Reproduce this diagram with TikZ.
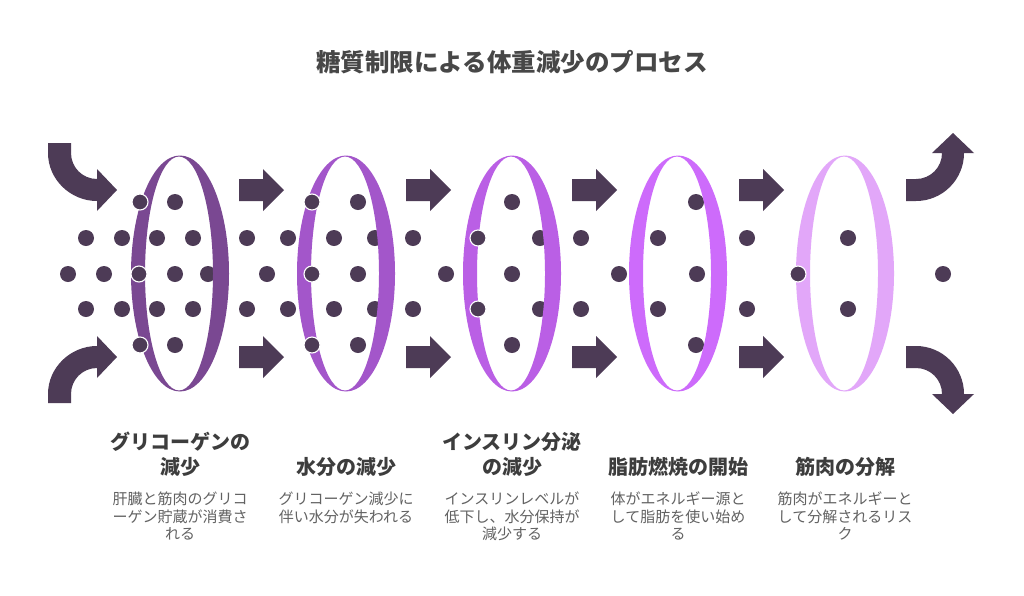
\documentclass[tikz,border=0pt]{standalone}
\usepackage{fontspec}
\setmainfont{Noto Sans CJK JP}
\definecolor{dk}{HTML}{4D3B56}
\definecolor{r1}{HTML}{7A4892}
\definecolor{r2}{HTML}{A356CA}
\definecolor{r3}{HTML}{BA5FE5}
\definecolor{r4}{HTML}{CD6BFB}
\definecolor{r5}{HTML}{E2A7F9}
\definecolor{ttl}{HTML}{474747}
\definecolor{hd}{HTML}{3D3D3D}
\definecolor{ds}{HTML}{626262}
\tikzset{
  dotf/.style={fill=dk},
  dotw/.style={fill=dk, draw=white, line width=1.1pt},
  head/.style={font=\bfseries\fontsize{20}{25}\selectfont, text=hd, align=center, inner sep=0pt},
  desc/.style={font=\fontsize{15}{17.5}\selectfont, text=ds, align=center, inner sep=0pt, anchor=north},
  blk/.style={fill=dk}
}
\begin{document}
\begin{tikzpicture}[x=1pt,y=-1pt]
\useasboundingbox[fill=white] (0,0) rectangle (1024,595);
% title
\node[font=\bfseries\fontsize{24.5}{29}\selectfont, text=ttl] (title) at (512,62) {糖質制限による体重減少のプロセス};
% plain dots (drawn before rings)
\foreach \x in {175,358,512,696} {\fill[dotf] (\x,202) circle[radius=8pt]; \fill[dotf] (\x,345) circle[radius=8pt];}
\foreach \x in {86,122,157,193,247,288,334,375,413,540,581,658,747,848} {\fill[dotf] (\x,238) circle[radius=8pt]; \fill[dotf] (\x,309) circle[radius=8pt];}
\foreach \x in {68,104,175,208,267,358,446,512,619,697,943} {\fill[dotf] (\x,274) circle[radius=8pt];}
% rings
\foreach \c/\col in {180/r1,346/r2,512/r3,678/r4,845/r5} {
  \fill[\col, even odd rule] (\c,273.5) ellipse[x radius=49pt, y radius=118pt] (\c-1,273.5) ellipse[x radius=34pt, y radius=117pt];
}
% dots in front of rings
\foreach \x in {140,312} {\filldraw[dotw] (\x,202) circle[radius=8pt]; \filldraw[dotw] (\x,345) circle[radius=8pt];}
\foreach \x in {478} {\filldraw[dotw] (\x,238) circle[radius=8pt]; \filldraw[dotw] (\x,309) circle[radius=8pt];}
\foreach \x in {139,312,798} {\filldraw[dotw] (\x,274) circle[radius=8pt];}
% straight arrows
\foreach \x in {239,406,572,739} {
  \foreach \y in {190,357} {
    \fill[blk] (\x,\y-11) -- (\x+24,\y-11) -- (\x+24,\y-21) -- (\x+45,\y) -- (\x+24,\y+21) -- (\x+24,\y+11) -- (\x,\y+11) -- cycle;
  }
}
% curved arrows left
\fill[blk] (48,143) -- (71,143) -- (71,153) .. controls (71,167.4) and (82.6,179) .. (97,179) -- (97,169) -- (117,190) -- (97,211) -- (97,201) .. controls (70.5,201) and (48,179.5) .. (48,153) -- cycle;
\fill[blk] (48,403) -- (48,394) .. controls (48,367.5) and (70.5,346) .. (97,346) -- (97,336) -- (117,357) -- (97,378) -- (97,368) .. controls (82.6,368) and (71,379.6) .. (71,394) -- (71,403) -- cycle;
% curved arrows right
\fill[blk] (906,179) -- (916,179) .. controls (930.4,179) and (942,167.4) .. (942,153) -- (932,153) -- (953,133) -- (974,153) -- (964,153) .. controls (964,179.5) and (942.5,201) .. (916,201) -- (906,201) -- cycle;
\fill[blk] (906,346) -- (916,346) .. controls (942.5,346) and (964,367.5) .. (964,394) -- (974,394) -- (953,414) -- (932,394) -- (942,394) .. controls (942,379.6) and (930.4,368) .. (916,368) -- (906,368) -- cycle;
% headings
\node[head] (h1) at (180,454.5) {グリコーゲンの\\減少};
\node[head] (h2) at (346,467) {水分の減少};
\node[head] (h3) at (512,454.5) {インスリン分泌\\の減少};
\node[head] (h4) at (678,467) {脂肪燃焼の開始};
\node[head] (h5) at (845,467) {筋肉の分解};
% descriptions
\node[desc] (d1) at (180,492) {肝臓と筋肉のグリコ\\ーゲン貯蔵が消費さ\\れる};
\node[desc] (d2) at (346,492) {グリコーゲン減少に\\伴い水分が失われる};
\node[desc] (d3) at (512,492) {インスリンレベルが\\低下し、水分保持が\\減少する};
\node[desc] (d4) at (678,492) {体がエネルギー源と\\して脂肪を使い始め\\る};
\node[desc] (d5) at (845,492) {筋肉がエネルギーと\\して分解されるリス\\ク};
\end{tikzpicture}
\end{document}
